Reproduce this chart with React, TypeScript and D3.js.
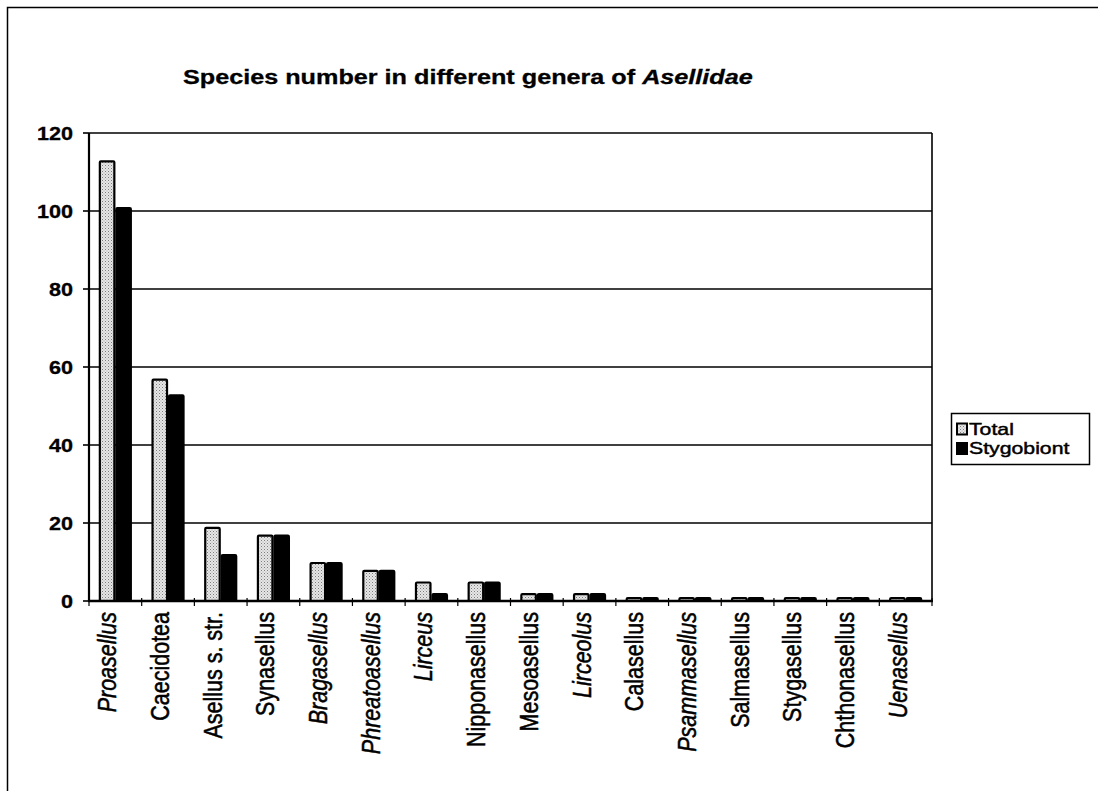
import React from "react";
import * as d3 from "d3";

// Genera of Asellidae, in the order shown on the x axis
const genera = [
  "Proasellus", "Caecidotea", "Asellus s. str.", "Synasellus", "Bragasellus",
  "Phreatoasellus", "Lirceus", "Nipponasellus", "Mesoasellus", "Lirceolus",
  "Calasellus", "Psammasellus", "Salmasellus", "Stygasellus", "Chthonasellus", "Uenasellus",
];
// Whether each genus name is set in italics
const italicNames = [
  true, false, false, false, true,
  true, true, false, false, true,
  false, true, false, false, false, true,
];
// Number of species per genus
const totalSpecies = [113, 57, 19, 17, 10, 8, 5, 5, 2, 2, 1, 1, 1, 1, 1, 1];
const stygobiontSpecies = [101, 53, 12, 17, 10, 8, 2, 5, 2, 2, 1, 1, 1, 1, 1, 1];
const seriesNames = ["Total", "Stygobiont"];
const yTicks = [0, 20, 40, 60, 80, 100, 120];

const W = 1098;
const H = 791;
const plot = { left: 89, right: 932, top: 133, bottom: 601 };
const FONT = "Arial, 'Liberation Sans', Helvetica, sans-serif";
const SX = 1.2; // horizontal stretch of the lettering

export default function App() {
  const x = d3
    .scaleBand<string>()
    .domain(genera)
    .range([plot.left, plot.right])
    .paddingInner(0)
    .paddingOuter(0);
  const y = d3.scaleLinear().domain([0, 120]).range([plot.bottom, plot.top]);
  const barW = 16.5;
  const band = x.bandwidth();

  const series = [totalSpecies, stygobiontSpecies];

  return (
    <>
      <style>{`html,body{margin:0;padding:0;overflow:hidden;}`}</style>
      <svg
        width={W}
        height={H}
        style={{ display: "block", background: "#fff" }}
        fontFamily={FONT}
      >
        <defs>
          <pattern id="stipple" width="3" height="3" patternUnits="userSpaceOnUse">
            <rect width="3" height="3" fill="#e6e6e6" />
            <rect x="0" y="0" width="1" height="1" fill="#7d7d7d" />
            <rect x="1.5" y="1.5" width="1" height="1" fill="#a8a8a8" />
          </pattern>
        </defs>

        {/* chart frame */}
        <rect x={7.5} y={7.5} width={W + 20} height={H + 20} fill="none" stroke="#000" strokeWidth={1.5} />

        {/* title */}
        <text
          transform={`translate(183,84) scale(${SX},1)`}
          fontSize={21}
          fontWeight="bold"
          fill="#000"
          stroke="#000"
          strokeWidth={0.3}
        >
          Species number in different genera of <tspan fontStyle="italic">Asellidae</tspan>
        </text>

        {/* gridlines */}
        {yTicks.filter((t) => t > 0).map((t) => (
          <line key={t} x1={plot.left} x2={plot.right} y1={y(t)} y2={y(t)} stroke="#000" strokeWidth={1.6} />
        ))}
        {/* plot border, right side */}
        <line x1={plot.right} x2={plot.right} y1={plot.top} y2={plot.bottom} stroke="#000" strokeWidth={1.6} />

        {/* bars */}
        {genera.map((g, i) => {
          const cx = (x(g) as number) + band / 2;
          return series.map((vals, s) => {
            const x0 = cx - barW + s * barW;
            const top = y(vals[i]);
            return (
              <rect
                key={g + s}
                x={x0 + 1}
                y={top + 1}
                width={barW - 2}
                height={Math.max(0, plot.bottom - top - 1)}
                fill={s === 0 ? "url(#stipple)" : "#000"}
                stroke="#000"
                strokeWidth={2.2}
                rx={1}
              />
            );
          });
        })}

        {/* axes */}
        <line x1={plot.left} x2={plot.left} y1={plot.top} y2={plot.bottom} stroke="#000" strokeWidth={2.2} />
        <line x1={plot.left - 1} x2={plot.right + 1} y1={plot.bottom} y2={plot.bottom} stroke="#000" strokeWidth={2.6} />
        {yTicks.map((t) => (
          <g key={t}>
            <line x1={plot.left - 6} x2={plot.left} y1={y(t)} y2={y(t)} stroke="#000" strokeWidth={1.6} />
            <text
              transform={`translate(73,${y(t) + 6.5}) scale(${SX},1)`}
              textAnchor="end"
              fontSize={18}
              fontWeight="bold"
              fill="#000"
              stroke="#000"
              strokeWidth={0.3}
            >
              {t}
            </text>
          </g>
        ))}
        {genera.map((g, i) => (
          <line
            key={"t" + i}
            x1={x(g) as number}
            x2={x(g) as number}
            y1={plot.bottom - 3}
            y2={plot.bottom + 5}
            stroke="#000"
            strokeWidth={1.2}
          />
        ))}
        <line x1={plot.right} x2={plot.right} y1={plot.bottom - 3} y2={plot.bottom + 5} stroke="#000" strokeWidth={1.2} />

        {/* category labels */}
        {genera.map((g, i) => {
          const cx = (x(g) as number) + band / 2 + 1;
          return (
            <text
              key={"l" + g}
              transform={`translate(${cx},612) scale(${SX},1) rotate(-90)`}
              textAnchor="end"
              fontSize={21.5}
              fontStyle={italicNames[i] ? "italic" : "normal"}
              fill="#000"
              stroke="#000"
              strokeWidth={0.45}
            >
              {g}
            </text>
          );
        })}

        {/* legend */}
        <rect x={951.5} y={413.5} width={138} height={51} fill="#fff" stroke="#000" strokeWidth={1.5} />
        {seriesNames.map((name, s) => {
          const by = 434.5 + s * 19.5;
          return (
            <g key={name}>
              <rect
                x={957}
                y={by - 11}
                width={10}
                height={11}
                fill={s === 0 ? "url(#stipple)" : "#000"}
                stroke="#000"
                strokeWidth={2}
              />
              <text
                transform={`translate(969,${by}) scale(1.25,1)`}
                fontSize={17}
                fill="#000"
                stroke="#000"
                strokeWidth={0.45}
              >
                {name}
              </text>
            </g>
          );
        })}
      </svg>
    </>
  );
}
